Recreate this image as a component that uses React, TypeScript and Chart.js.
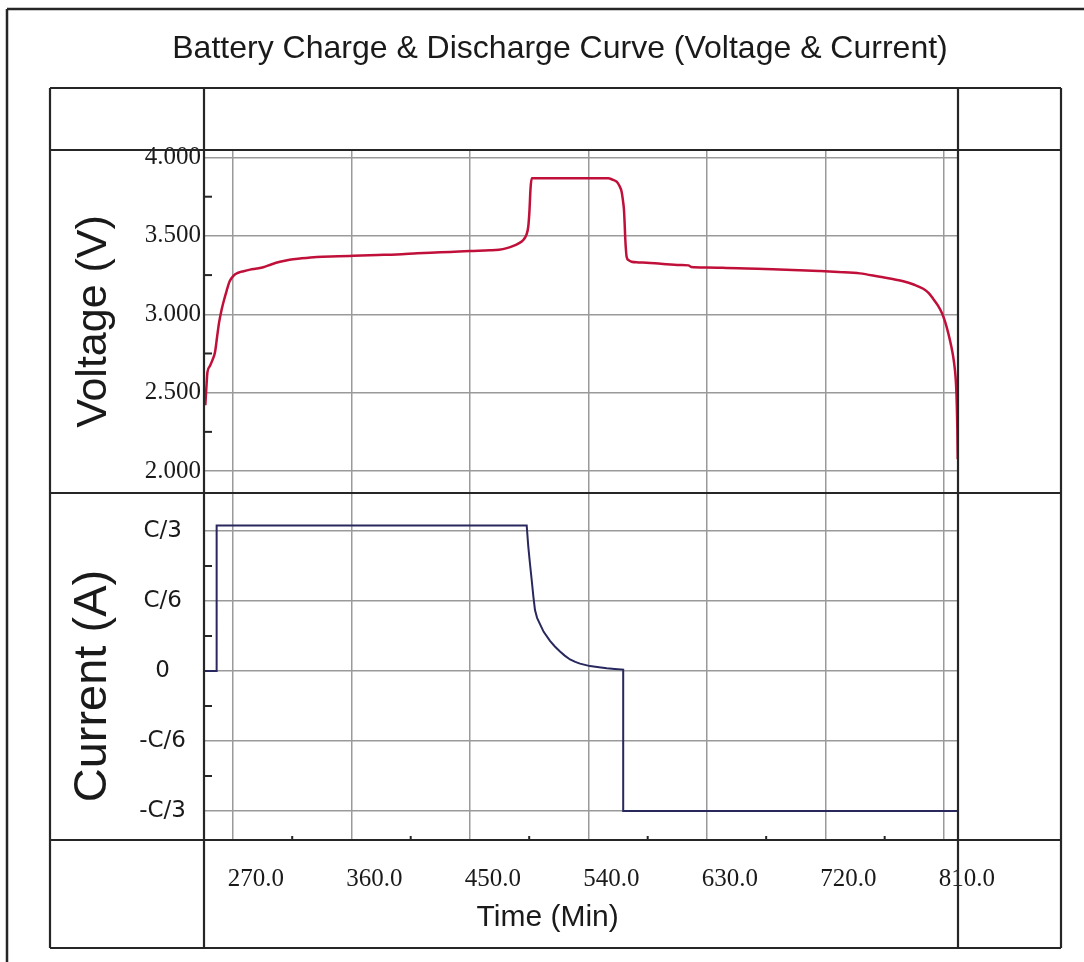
import React, { useEffect, useRef } from 'react';
import { Chart, registerables } from 'chart.js';

Chart.register(...registerables);

const chartTitle = 'Battery Charge & Discharge Curve (Voltage & Current)';
const xTitle = 'Time (Min)';
const voltageTitle = 'Voltage (V)';
const currentTitle = 'Current (A)';

// Time (min) and cell voltage (V)
const voltageTime = [
  249.0, 250.0, 250.6, 252.5, 254.0, 256.4, 258.0, 259.5, 261.4, 263.5, 265.2, 267.5, 270.3, 274, 278, 283, 288,
  293, 299, 305.7, 313, 320.9, 333.6, 350, 361.4, 380, 394.4, 410, 420, 435, 450, 465, 472, 478, 483, 487, 490.5,
  493, 494.3, 495.2, 496.0, 496.9, 520, 540, 555, 558, 561.4, 563.5, 565.2, 566.3, 567.0, 567.5, 567.9, 568.5,
  569.0, 570.5, 572.8, 578, 584.2, 595, 609.5, 616, 618, 630, 645, 660, 680, 700, 715, 730, 746.2, 761.4, 770,
  779.1, 787, 794.3, 798.5, 801.9, 805.5, 808.3, 811, 813.3, 815.5, 817.1, 818.3, 819.2, 819.8, 820.2, 820.5,
];
const voltageValue = [
  2.42, 2.56, 2.63, 2.67, 2.70, 2.76, 2.86, 2.95, 3.03, 3.10, 3.15, 3.21, 3.245, 3.265, 3.275, 3.285, 3.292,
  3.30, 3.318, 3.335, 3.348, 3.356, 3.366, 3.37, 3.373, 3.378, 3.382, 3.389, 3.393, 3.398, 3.404, 3.408, 3.412,
  3.422, 3.436, 3.452, 3.474, 3.51, 3.56, 3.66, 3.80, 3.867, 3.867, 3.867, 3.867, 3.86, 3.846, 3.82, 3.782,
  3.72, 3.665, 3.58, 3.495, 3.41, 3.367, 3.345, 3.335, 3.331, 3.329, 3.322, 3.314, 3.312, 3.302, 3.299, 3.296,
  3.292, 3.287, 3.281, 3.276, 3.27, 3.261, 3.239, 3.227, 3.211, 3.19, 3.163, 3.135, 3.098, 3.055, 3.011, 2.95,
  2.88, 2.80, 2.728, 2.65, 2.554, 2.42, 2.272, 2.075,
];

// Time (min) and current, in units of C/6
const currentTime = [
  248, 257.6, 257.6, 493.1, 494.3, 495.5, 496.9, 498.2, 499.4, 501, 503.2, 506, 510.8, 514.5, 518.4, 522, 526.0,
  530, 533.6, 541.2, 548, 553.9, 560, 566.4, 566.4, 820.7,
];
const currentValue = [
  0, 0, 2.08, 2.08, 1.78, 1.55, 1.30, 1.06, 0.87, 0.76, 0.67, 0.56, 0.43, 0.35, 0.28, 0.22, 0.165, 0.13, 0.105,
  0.07, 0.055, 0.04, 0.03, 0.02, -2, -2,
];

const xTicks = [270, 360, 450, 540, 630, 720, 810];
const xMinorTicks = [315, 405, 495, 585, 675, 765];
const voltageTicks = [2, 2.5, 3, 3.5, 4];
const voltageMinorTicks = [2.25, 2.75, 3.25, 3.75];
const currentTicks = [-2, -1, 0, 1, 2];
const currentTickLabels = ['-C/3', '-C/6', '0', 'C/6', 'C/3'];
const currentMinorTicks = [-1.5, -0.5, 0.5, 1.5];

const serif = "'Liberation Serif', 'Times New Roman', serif";
const sans = "'Liberation Sans', Arial, sans-serif";
const dejavu = "'DejaVu Sans', Verdana, sans-serif";

const LINE = '#262626';
const GRID = '#9a9a9a';
const TEXT = '#1a1a1a';

const framePlugin = {
  id: 'tableFrame',
  afterDraw(chart: any) {
    const { ctx, chartArea: ca, scales } = chart;
    const yV = scales.yV;
    const yC = scales.yC;
    const x = scales.x;
    const tLeft = yV.left;
    const tRight = ca.right + 103;
    const tTop = 88;
    const tBottom = x.bottom;
    ctx.save();
    ctx.strokeStyle = LINE;
    const line = (x1: number, y1: number, x2: number, y2: number) => {
      ctx.beginPath();
      ctx.moveTo(x1, y1);
      ctx.lineTo(x2, y2);
      ctx.stroke();
    };
    // outer frame (top and left)
    ctx.lineWidth = 2.5;
    line(7, 9, chart.width, 9);
    line(7, 9, 7, chart.height);
    ctx.lineWidth = 2.2;
    // table rows
    [tTop, ca.top, yV.bottom, ca.bottom, tBottom].forEach((yy: number) => line(tLeft, yy, tRight, yy));
    // table columns
    [tLeft, ca.left, ca.right, tRight].forEach((xx: number) => line(xx, tTop, xx, tBottom));
    // minor ticks
    ctx.lineWidth = 2;
    voltageMinorTicks.forEach((v) => {
      const p = yV.getPixelForValue(v);
      line(ca.left, p, ca.left + 8, p);
    });
    currentMinorTicks.forEach((v) => {
      const p = yC.getPixelForValue(v);
      line(ca.left, p, ca.left + 8, p);
    });
    xMinorTicks.forEach((v) => {
      const p = x.getPixelForValue(v);
      line(p, ca.bottom, p, ca.bottom - 4);
    });
    ctx.restore();
  },
};

export default function App() {
  const canvasRef = useRef<HTMLCanvasElement | null>(null);

  useEffect(() => {
    const canvas = canvasRef.current;
    if (!canvas) return;
    const chart = new Chart(canvas, {
      type: 'line',
      data: {
        datasets: [
          {
            label: 'Current',
            data: currentTime.map((t, i) => ({ x: t, y: currentValue[i] })),
            xAxisID: 'x',
            yAxisID: 'yC',
            borderColor: '#28285e',
            borderWidth: 2,
            pointRadius: 0,
            tension: 0,
            fill: false,
          },
          {
            label: 'Voltage',
            data: voltageTime.map((t, i) => ({ x: t, y: voltageValue[i] })),
            xAxisID: 'x',
            yAxisID: 'yV',
            borderColor: '#c0103a',
            borderWidth: 2.5,
            pointRadius: 0,
            cubicInterpolationMode: 'monotone',
            fill: false,
          },
        ],
      },
      options: {
        animation: false,
        responsive: false,
        devicePixelRatio: 1,
        layout: { padding: { left: 50, right: 14, top: 0, bottom: 14 } },
        plugins: {
          legend: { display: false },
          tooltip: { enabled: false },
          title: {
            display: true,
            text: chartTitle,
            color: TEXT,
            font: { family: sans, size: 32, weight: 'normal' },
            padding: { top: 30, bottom: 81.6 },
          },
        },
        scales: {
          x: {
            type: 'linear',
            position: 'bottom',
            min: 248,
            max: 820.7,
            afterBuildTicks: (s: any) => {
              s.ticks = xTicks.map((v) => ({ value: v }));
            },
            afterFit: (s: any) => {
              s.height = 108;
            },
            grid: { color: GRID, lineWidth: 1.5, drawTicks: false },
            border: { display: false },
            ticks: {
              color: TEXT,
              font: { family: serif, size: 25 },
              padding: 24,
              labelOffset: 23,
              maxRotation: 0,
              autoSkip: false,
              callback: (v: any) => Number(v).toFixed(1),
            },
            title: {
              display: true,
              text: xTitle + '        ',
              color: TEXT,
              font: { family: sans, size: 30 },
              padding: { top: 0, bottom: 12 },
            },
          },
          yC: {
            type: 'linear',
            position: 'left',
            stack: 'panels',
            stackWeight: 347,
            min: -2.414,
            max: 2.543,
            afterBuildTicks: (s: any) => {
              s.ticks = currentTicks.map((v) => ({ value: v }));
            },
            afterFit: (s: any) => {
              s.width = 154;
            },
            grid: { color: GRID, lineWidth: 1.5, drawTicks: false },
            border: { display: false },
            ticks: {
              color: TEXT,
              font: { family: dejavu, size: 23 },
              padding: 18,
              crossAlign: 'center',
              autoSkip: false,
              callback: (v: any) => {
                const i = currentTicks.indexOf(Number(v));
                return i >= 0 ? currentTickLabels[i] : '';
              },
            },
            title: {
              display: true,
              text: currentTitle + '   ',
              color: TEXT,
              font: { family: sans, size: 47 },
              padding: { top: 15, bottom: 0 },
            },
          },
          yV: {
            type: 'linear',
            position: 'left',
            stack: 'panels',
            stackWeight: 343,
            min: 1.86,
            max: 4.048,
            afterBuildTicks: (s: any) => {
              s.ticks = voltageTicks.map((v) => ({ value: v }));
            },
            afterFit: (s: any) => {
              s.width = 154;
            },
            grid: { color: GRID, lineWidth: 1.5, drawTicks: false },
            border: { display: false },
            ticks: {
              color: TEXT,
              font: { family: serif, size: 25 },
              padding: 3,
              autoSkip: false,
              callback: (v: any) => Number(v).toFixed(3),
            },
            title: {
              display: true,
              text: voltageTitle,
              color: TEXT,
              font: { family: sans, size: 43 },
              padding: { top: 18, bottom: 0 },
            },
          },
          yPad: {
            type: 'linear',
            position: 'right',
            display: true,
            afterFit: (s: any) => {
              s.width = 112;
            },
            grid: { display: false },
            border: { display: false },
            ticks: { display: false },
          },
        },
      } as any,
      plugins: [framePlugin],
    } as any);
    return () => chart.destroy();
  }, []);

  return (
    <div style={{ position: 'fixed', left: 0, top: 0, width: 1084, height: 962, background: '#fff' }}>
      <canvas ref={canvasRef} width={1084} height={962} style={{ display: 'block' }} />
    </div>
  );
}
